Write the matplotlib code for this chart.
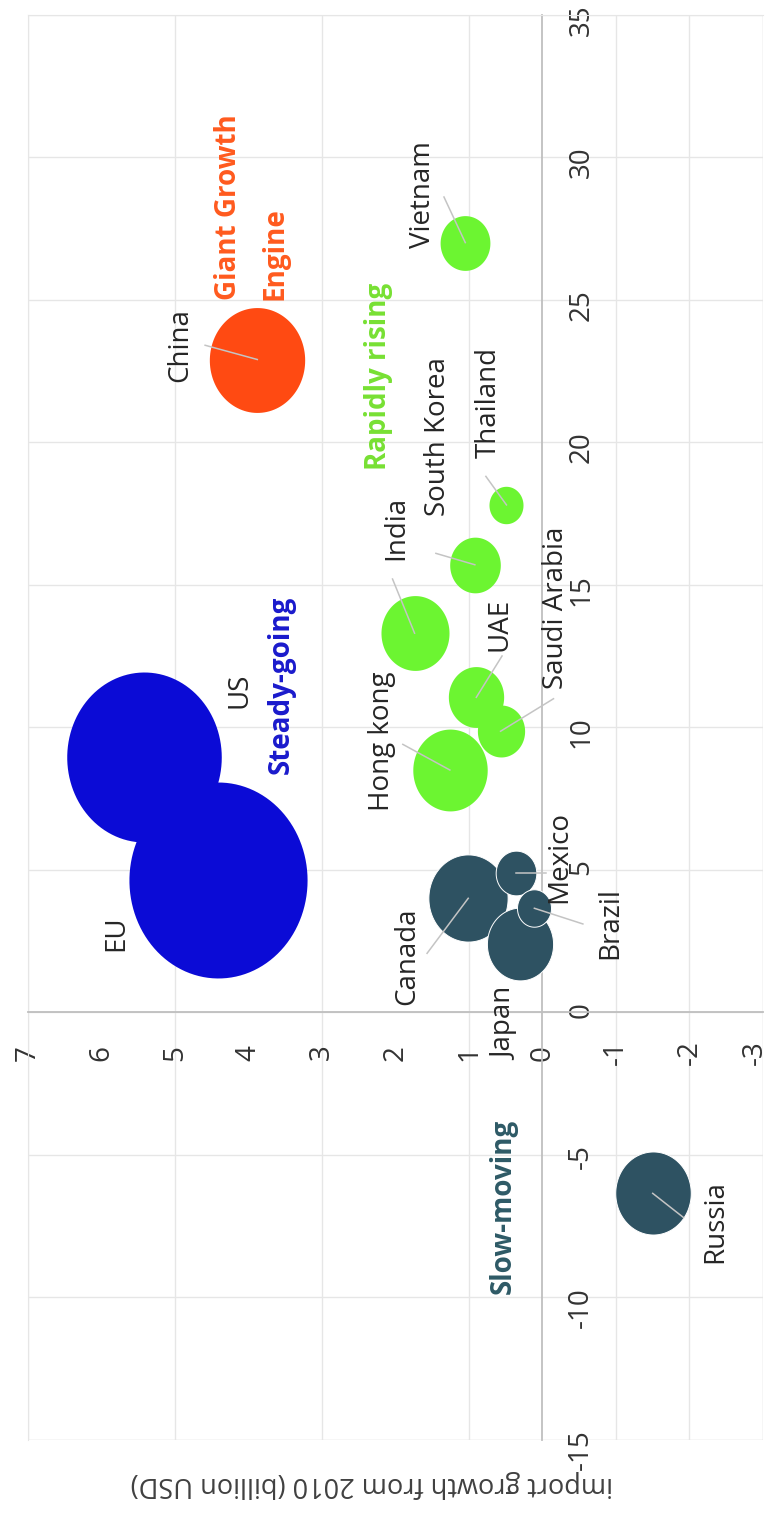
import numpy as np
import matplotlib
matplotlib.use("Agg")
import matplotlib.pyplot as plt
from matplotlib.path import Path
from matplotlib.transforms import ScaledTranslation

plt.rcParams['font.family'] = ['Open Sans', 'DejaVu Sans']

# chart values (original chart: x = growth, y = import growth, bubble = size)
countries = ["China", "Vietnam", "US", "EU", "Hong kong", "UAE", "Saudi Arabia",
             "India", "South Korea", "Thailand", "Canada", "Mexico", "Brazil",
             "Japan", "Russia"]
growth = [22.9, 27.0, 8.95, 4.63, 8.5, 11.05, 9.86, 13.3, 15.7, 17.8, 4.0, 4.9,
          3.65, 2.4, -6.35]
import_growth = [3.88, 1.05, 5.42, 4.42, 1.26, 0.9, 0.57, 1.74, 0.92, 0.49, 1.01,
                 0.36, 0.11, 0.3, -1.5]
bubble = [110, 30, 289, 384, 67, 37, 27, 56, 31, 14, 76, 20, 14, 53, 69]
group = ["giant", "rising", "steady", "steady", "rising", "rising", "rising",
         "rising", "rising", "rising", "slow", "slow", "slow", "slow", "slow"]

x_ticks = list(range(-15, 36, 5))
y_ticks = list(range(-3, 8))

colors = {"giant": "#FF4A12", "rising": "#6CF531", "steady": "#0B0BD6", "slow": "#2E5262"}

# label layout, in (import growth, growth) coords
label_pos = {
    "China": (4.93, 23.4), "Vietnam": (1.62, 28.7), "US": (4.12, 11.3),
    "EU": (5.8, 2.77), "Hong kong": (2.19, 9.5), "UAE": (0.58, 13.6),
    "Saudi Arabia": (-0.19, 14.2), "India": (1.99, 17.0),
    "South Korea": (1.42, 20.2), "Thailand": (0.73, 21.4),
    "Canada": (1.84, 1.96), "Mexico": (-0.23, 5.44), "Brazil": (-0.92, 3.12),
    "Japan": (0.51, -0.39), "Russia": (-2.35, -7.33),
}
leader_start = {
    "China": (4.59, 23.4), "Vietnam": (1.34, 28.6), "India": (2.04, 15.2),
    "South Korea": (1.45, 16.1), "Thailand": (0.77, 18.8),
    "Hong kong": (1.9, 9.4), "UAE": (0.55, 12.5), "Saudi Arabia": (-0.15, 11.0),
    "Canada": (1.57, 2.07), "Mexico": (-0.05, 4.9), "Brazil": (-0.55, 3.1),
    "Russia": (-1.92, -7.2),
}

fig = plt.figure(figsize=(7.73, 15.17), dpi=100)
ax = fig.add_axes([0.0362, 0.0508, 0.9508, 0.9396])
# the chart is shown turned a quarter turn: growth runs up, import growth runs left
ax.set_xlim(7, -3)
ax.set_ylim(-15, 35)

for v in x_ticks:
    ax.axhline(v, color="#E6E6E6", lw=1.0, zorder=0)
for v in [7, 5, 3, 1, -1, -2, -3]:
    ax.axvline(v, color="#E6E6E6", lw=1.0, zorder=0)

t = np.linspace(0, 2 * np.pi, 120)
ellipse = Path(np.column_stack([0.5 / 1.1 * np.cos(t), 0.5 * np.sin(t)]), closed=True)

order = np.argsort(bubble)[::-1]
for i in order:
    edge = 0.7 if group[i] == "slow" else 0
    ax.scatter(import_growth[i], growth[i], s=bubble[i] * 51.84, marker=ellipse,
               color=colors[group[i]], edgecolors="white", linewidths=edge, zorder=3)

for i, name in enumerate(countries):
    if name in leader_start:
        sx, sy = leader_start[name]
        ax.plot([sx, import_growth[i]], [sy, growth[i]], color="#C4C4C4", lw=1.1, zorder=4)
    lx, ly = label_pos[name]
    ax.text(lx, ly, name, rotation=90, ha="center", va="center", fontsize=20,
            color="#262626", zorder=5)

bold = dict(rotation=90, fontsize=20, fontweight="bold", zorder=5)
ax.text(4.27, 25.0, "Giant Growth", ha="center", va="bottom", color="#FF5A1E", **bold)
ax.text(3.64, 25.0, "Engine", ha="center", va="bottom", color="#FF5A1E", **bold)
ax.text(2.23, 22.3, "Rapidly rising", ha="center", va="center", color="#77E033", **bold)
ax.text(3.55, 11.5, "Steady-going", ha="center", va="center", color="#1A1ACC", **bold)
ax.text(0.54, -6.8, "Slow-moving", ha="center", va="center", color="#2E5A66", **bold)

for side in ["top", "left"]:
    ax.spines[side].set_color("#E6E6E6")
ax.spines["bottom"].set_position(("data", 0))
ax.spines["right"].set_position(("data", 0))
ax.spines["bottom"].set_color("#BFBFBF")
ax.spines["right"].set_color("#BFBFBF")
ax.spines["bottom"].set_linewidth(1.3)
ax.spines["right"].set_linewidth(1.3)
ax.axhline(-15, color="#E6E6E6", lw=1.0, zorder=0)
ax.axvline(-3, color="#E6E6E6", lw=1.0, zorder=0)

ax.xaxis.set_ticks_position("bottom")
ax.yaxis.set_ticks_position("right")
ax.set_xticks(y_ticks)
ax.set_xticklabels([str(v) for v in y_ticks], rotation=90, va="center")
ax.set_yticks(x_ticks)
ax.set_yticklabels([str(v) for v in x_ticks], rotation=90, ha="center")
ax.tick_params(axis="both", length=0, labelsize=20, labelcolor="#333333")
ax.tick_params(axis="x", pad=29)
ax.tick_params(axis="y", pad=28)

# keep the last label at the right edge inside the picture
edge_lbl = ax.xaxis.get_major_ticks()[0].label1
edge_lbl.set_transform(edge_lbl.get_transform()
                       + ScaledTranslation(-6 / 72, 0, fig.dpi_scale_trans))

fig.text(0.481, 0.0218, "import growth from 2010 (billion USD)", rotation=180,
         ha="center", va="center", fontsize=19.5, color="#404040")

fig.savefig("out.png", dpi=100)
